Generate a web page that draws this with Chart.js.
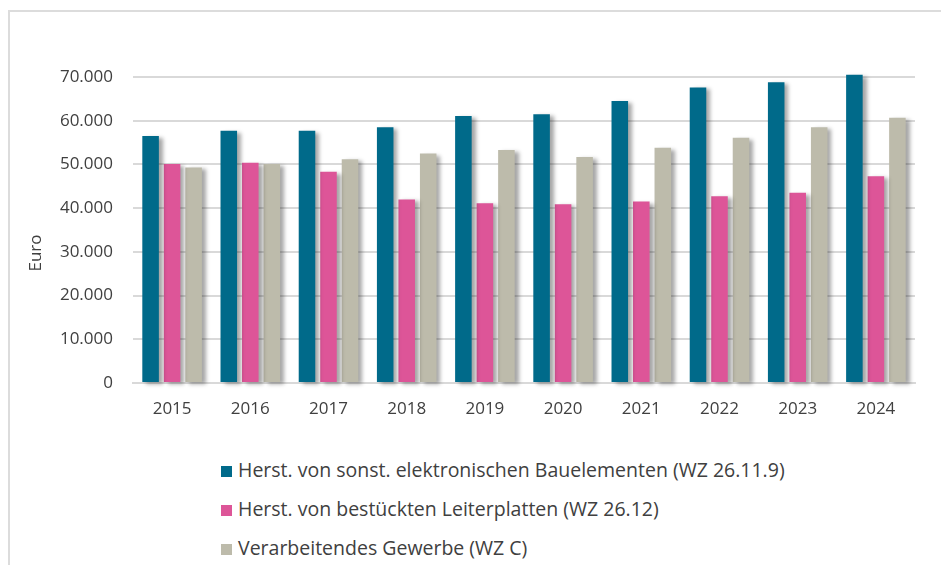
<!DOCTYPE html>
<html lang="de">
<head>
<meta charset="utf-8">
<script src="https://cdn.jsdelivr.net/npm/chart.js@4/dist/chart.umd.min.js"></script>
<style>
  html, body { margin: 0; padding: 0; background: #fff; overflow: hidden; }
  body { width: 941px; height: 565px; position: relative; font-family: "Open Sans", sans-serif; }
  #frame { position: absolute; left: 8px; top: 10px; width: 960px; height: 600px;
           border-left: 2px solid #dcdcdc; border-top: 2px solid #dcdcdc; }
  #chart-wrap { position: absolute; left: 0; top: 0; width: 941px; height: 440px; }
  #legend { position: absolute; left: 221px; top: 455px; margin: 0; padding: 0; list-style: none; }
  #legend li { height: 39px; line-height: 30px; font-size: 19.5px; color: #404040; white-space: nowrap; }
  #legend span.box { display: inline-block; width: 11px; height: 11px; margin-right: 6px; vertical-align: 0px; }
</style>
</head>
<body>
<div id="frame"></div>
<div id="chart-wrap"><canvas id="chart"></canvas></div>
<ul id="legend"></ul>
<script>
// Jahre und Werte (Euro)
const years = ['2015', '2016', '2017', '2018', '2019', '2020', '2021', '2022', '2023', '2024'];
const bauelemente = [56500, 57700, 57700, 58500, 61100, 61500, 64500, 67600, 68800, 70500];
const leiterplatten = [50100, 50400, 48300, 42000, 41100, 40900, 41500, 42700, 43500, 47300];
const gewerbe = [49300, 50100, 51200, 52500, 53300, 51700, 53800, 56100, 58500, 60700];

const seriesLabels = [
    'Herst. von sonst. elektronischen Bauelementen (WZ 26.11.9)',
    'Herst. von bestückten Leiterplatten (WZ 26.12)',
    'Verarbeitendes Gewerbe (WZ C)'
];
const seriesColors = ['#006a8a', '#dd5598', '#bdbbab'];

const fmt = v => v.toLocaleString('de-DE');

// Schatten rechts neben den Balken
const barShadow = {
    id: 'barShadow',
    beforeDatasetsDraw(chart) {
        const ctx = chart.ctx;
        ctx.save();
        ctx.shadowColor = 'rgba(0,0,0,0.35)';
        ctx.shadowBlur = 4;
        ctx.shadowOffsetX = 4;
        ctx.shadowOffsetY = 2;
    },
    afterDatasetsDraw(chart) {
        chart.ctx.restore();
    }
};

// Achsentitel "Euro"
const euroTitle = {
    id: 'euroTitle',
    afterDraw(chart) {
        const ctx = chart.ctx;
        const area = chart.chartArea;
        ctx.save();
        ctx.translate(36, (area.top + area.bottom) / 2 + 23);
        ctx.rotate(-Math.PI / 2);
        ctx.font = '17px "Open Sans"';
        ctx.fillStyle = '#404040';
        ctx.textAlign = 'center';
        ctx.textBaseline = 'middle';
        ctx.fillText('Euro', 0, 0);
        ctx.restore();
    }
};

const ctx = document.getElementById('chart').getContext('2d');
const chart = new Chart(ctx, {
    type: 'bar',
    data: {
        labels: years,
        datasets: [bauelemente, leiterplatten, gewerbe].map((d, i) => ({
            label: seriesLabels[i],
            data: d,
            backgroundColor: seriesColors[i],
            borderWidth: 0,
            categoryPercentage: 0.825,
            barPercentage: 0.77,
            clip: false
        }))
    },
    options: {
        responsive: true,
        maintainAspectRatio: false,
        animation: false,
        layout: { padding: { top: 77, right: 26, bottom: 0, left: 0 } },
        plugins: {
            legend: { display: false },
            tooltip: { enabled: false }
        },
        scales: {
            x: {
                grid: { display: false, drawTicks: false },
                border: { display: true, color: '#d9d9d9', width: 2 },
                ticks: {
                    color: '#404040',
                    padding: 16,
                    font: { family: 'Open Sans', size: 17 },
                    maxRotation: 0
                },
                afterFit: s => { s.height = 57; }
            },
            y: {
                min: 0,
                max: 70000,
                ticks: {
                    stepSize: 10000,
                    color: '#404040',
                    padding: 20,
                    font: { family: 'Open Sans', size: 17 },
                    callback: v => fmt(v)
                },
                grid: { color: '#d9d9d9', lineWidth: 2, drawTicks: false },
                border: { display: false },
                afterFit: s => { s.width = 133; }
            }
        }
    },
    plugins: [barShadow, euroTitle]
});

// Legende untereinander
const legend = document.getElementById('legend');
chart.data.datasets.forEach(ds => {
    const li = document.createElement('li');
    const box = document.createElement('span');
    box.className = 'box';
    box.style.background = ds.backgroundColor;
    li.appendChild(box);
    li.appendChild(document.createTextNode(ds.label));
    legend.appendChild(li);
});
</script>
</body>
</html>
